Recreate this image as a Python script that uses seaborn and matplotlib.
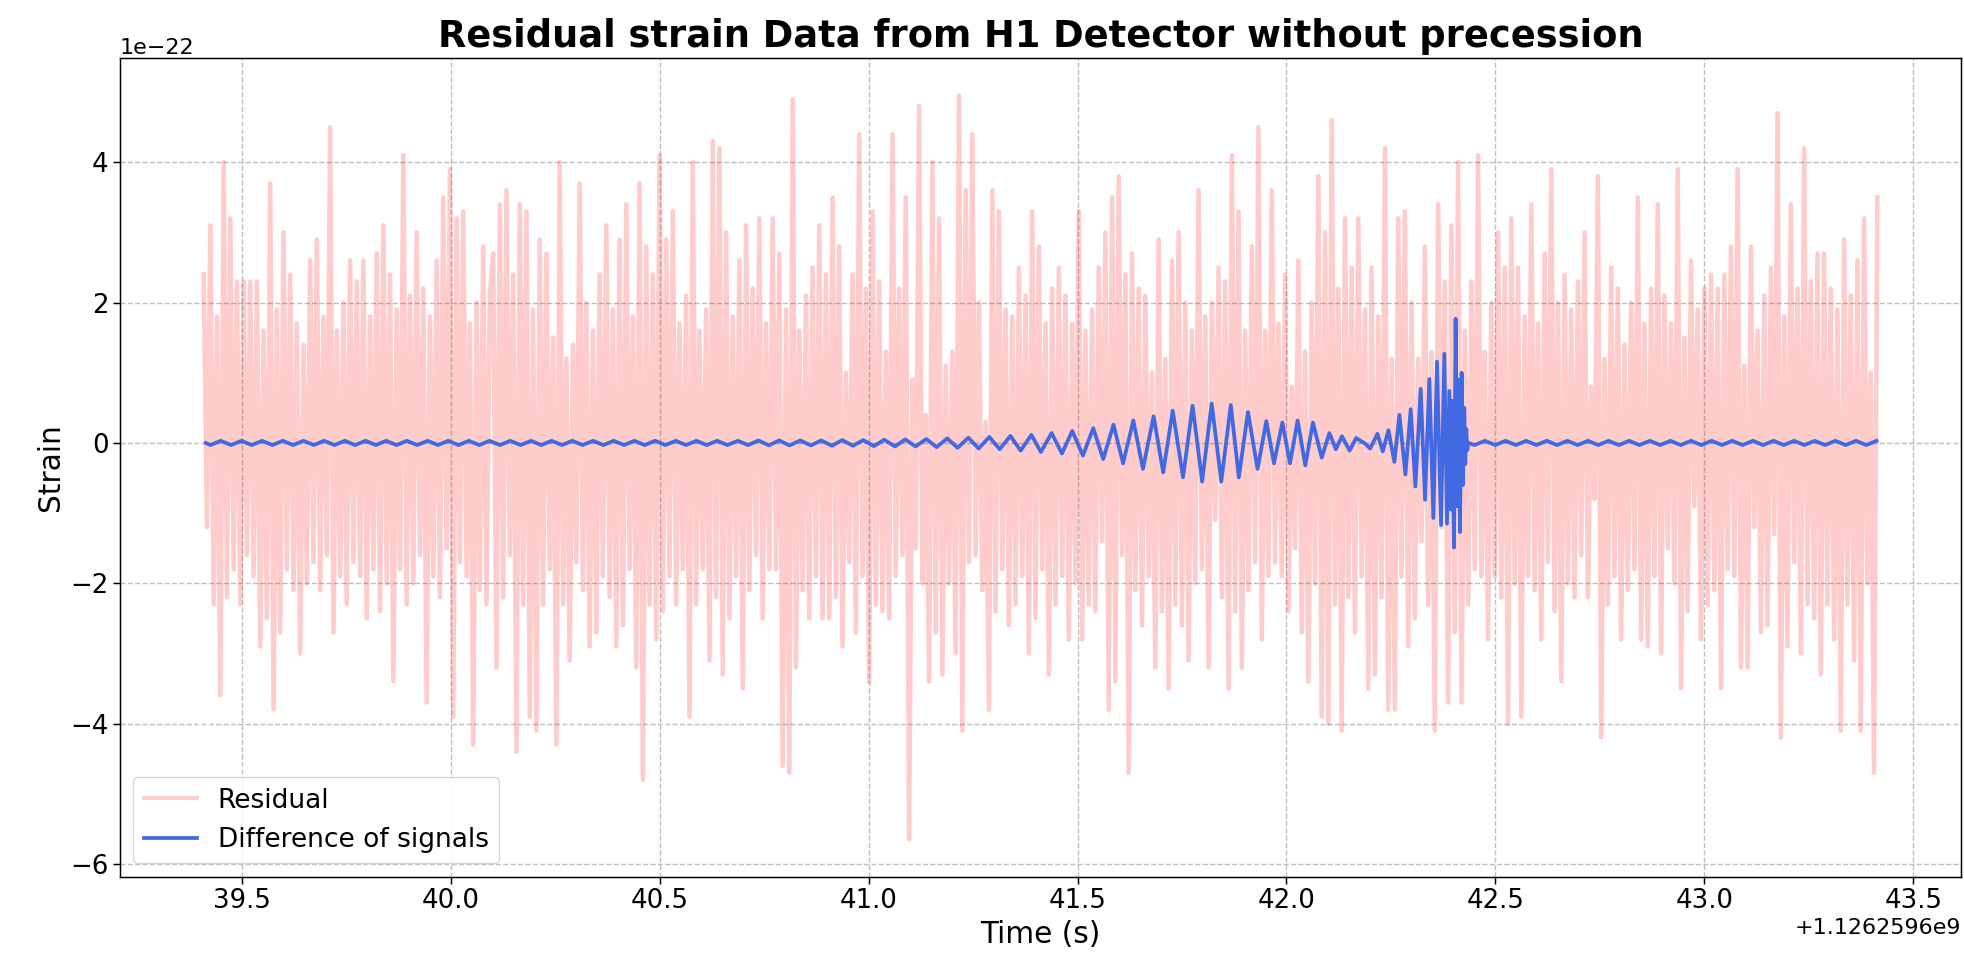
import numpy as np
import pandas as pd
import matplotlib
matplotlib.use("Agg")
import matplotlib.pyplot as plt
import seaborn as sns

OFFSET = 1.1262596e9
SCALE = 1e-22

# ---- residual strain (units of 1e-22), read left to right in six chunks ----
res_seg1 = [2.4,-1.2, 3.1,-2.3, 1.8,-3.6, 4.0,-2.2, 3.2,-1.8, 2.3,-2.3, 2.3,-1.6, 2.3,-1.9, 2.3,-2.9, 1.6,-2.5,
            3.7,-3.8, 1.9,-2.7, 3.0,-1.8, 2.4,-2.1, 1.7,-3.0, 1.4,-2.0, 2.6,-1.7, 2.9,-2.1, 1.8,-1.6, 4.5,-2.7,
            1.6,-1.9, 2.0,-2.3, 2.6,-1.7, 2.3,-1.9, 2.6,-2.5, 1.8,-1.8, 2.7,-2.4, 3.1,-2.0, 2.4,-3.4, 1.9,-1.8,
            4.1,-2.3, 2.1,-2.0, 3.0,-1.6, 2.2,-3.7, 1.8,-1.9, 2.6,-2.2, 3.5,-1.5, 3.9,-3.9, 3.2,-1.7, 3.3,-1.9,
            1.7,-4.3, 2.0,-2.1, 2.8,-2.3, 2.1]
res_seg2 = [2.7,-3.2, 3.4,-2.2, 3.6,-1.6, 2.4,-4.4, 3.4,-2.3, 3.3,-3.9, 1.9,-4.1, 2.9,-2.3, 2.7,-1.8, 1.5,-4.3,
            4.0,-2.3, 1.2,-3.1, 1.4,-1.7, 3.7,-2.1, 2.0,-2.9, 1.6,-2.7, 2.4,-1.9, 3.1,-2.2, 1.9,-2.9, 2.9,-2.6,
            3.4,-1.8, 1.8,-3.2, 3.7,-4.8, 2.8,-2.3, 2.4,-2.8, 4.1,-2.4, 2.9,-1.9, 3.3,-2.3, 1.7,-1.8, 2.1,-3.9,
            4.0,-2.3, 1.6,-1.8, 1.9,-3.1, 4.3,-2.2, 4.2,-3.3, 3.0,-2.5, 1.8,-1.9, 2.6,-3.5, 3.1,-2.1, 2.2,-1.6,
            3.2,-2.5, 1.7,-1.8, 3.2,-1.8, 2.7,-4.6, 1.9,-4.7]
res_seg3 = [4.9,-3.2, 1.6,-2.1, 2.1,-2.5, 2.5,-1.9, 3.1,-2.5, 2.4,-2.5, 3.5,-2.2, 2.8,-2.9, 1.0,-1.7, 2.4,-2.7,
            4.4,-1.9, 2.2,-3.4, 3.3,-2.3, 2.3,-2.4, 1.3,-2.5, 4.4,-1.9, 2.2,-1.6, 3.5,-5.65, 0.9,-1.5, 4.8,-2.0,
            0.4,-3.4, 4.0,-2.7, 3.2,-3.3, 1.1,-2.0, 1.3,-3.0, 4.95,-4.1, 3.6,-1.7, 4.4,-1.6, 2.0,-2.1, 0.3,-3.8,
            3.6,-2.4, 3.3,-1.8, 1.9,-2.6, 1.8,-2.3, 2.5,-1.9, 2.1,-3.0, 3.3,-2.5, 2.8,-1.8, 1.7,-3.3, 2.2,-2.3,
            2.5,-1.9, 2.1,-2.8, 1.7,-2.0, 3.3,-2.8, 1.6,-2.3]
res_seg4 = [1.9,-2.4, 2.5,-1.4, 3.0,-3.8, 3.5,-3.4, 3.8,-1.6, 2.4,-4.7, 2.7,-2.1, 2.2,-2.6, 2.1,-1.9, 1.0,-3.2,
            2.9,-2.4, 1.2,-3.5, 2.6,-2.3, 3.0,-2.6, 2.0,-3.1, 1.6,-2.0, 3.6,-1.8, 1.8,-3.2, 2.0,-1.1, 2.5,-2.2,
            2.3,-3.5, 4.1,-2.4, 3.3,-3.2, 1.6,-2.1, 2.8,-1.7, 4.5,-2.8, 1.6,-1.9, 3.6,-1.7, 1.7,-1.9, 2.4,-2.4,
            0.8,-1.5, 2.6,-2.7, 1.3,-3.4, 2.0,-2.0, 3.8,-3.9, 3.0,-4.0, 4.6,-2.3, 2.2,-4.1, 3.2,-2.2, 2.5,-2.7,
            3.2,-1.9, 1.9,-3.5, 2.5,-3.3, 1.8,-2.2, 4.2,-3.8]
res_seg5 = [1.2,-3.8, 3.2,-1.9, 3.3,-2.9, 2.0,-2.5, 1.2,-1.4, 2.8,-2.3, 1.3,-4.1, 3.4,-1.2, 2.3,-3.7, 3.1,-2.7,
            4.0,-3.7, 1.6,-2.3, 2.3,-1.8, 4.1,-1.9, 1.3,-2.8, 2.0,-1.9, 3.0,-2.2, 2.5,-4.0, 3.2,-2.0, 2.5,-3.9,
            1.8,-1.9, 3.4,-2.1, 1.7,-2.8, 2.7,-1.7, 3.9,-2.4, 2.0,-3.4, 2.4,-2.0, 1.9,-2.2, 2.3,-1.6, 3.0,-2.2,
            0.8,-0.8, 3.8,-4.2, 1.2,-2.3, 2.5,-1.9, 2.2,-2.8, 1.4,-2.1, 2.0,-1.8, 3.5,-2.8, 1.7,-2.9, 2.2,-1.9,
            3.4,-3.0, 2.1,-1.5, 1.7,-2.0, 3.9,-3.5, 1.5,-2.4]
res_seg6 = [2.6,-0.9, 1.9,-2.8, 2.2,-2.3, 2.4,-2.1, 2.2,-3.5, 2.4,-1.8, 2.8,-1.9, 3.9,-3.2, 1.1,-3.2, 2.8,-1.2,
            1.6,-2.7, 2.1,-2.6, 2.5,-1.3, 4.7,-4.2, 1.8,-2.9, 3.4,-1.7, 2.2,-3.0, 4.2,-2.3, 2.3,-2.5, 2.7,-3.3,
            2.7,-2.3, 2.2,-2.8, 1.9,-4.1, 2.9,-2.3, 2.1,-3.1, 2.6,-4.1, 3.2,-2.0, 1.0,-4.7, 3.5]
res_start, res_end = 39.409, 43.414

# ---- difference of signals (units of 1e-22) ----
blue_early_start = 39.414
blue_early = [0.0,
    -0.03, 0.03, -0.03, 0.03, -0.03, 0.03, -0.03, 0.03, -0.03, 0.03,
    -0.03, 0.03, -0.03, 0.03, -0.03, 0.03, -0.03, 0.03, -0.03, 0.03,
    -0.03, 0.03, -0.03, 0.03, -0.03, 0.03, -0.03, 0.03, -0.03, 0.03,
    -0.03, 0.03, -0.03, 0.03, -0.03, 0.03, -0.03, 0.03, -0.03, 0.03,
    -0.03, 0.03, -0.03, 0.03, -0.03, 0.03, -0.03, 0.03, -0.03, 0.03,
    -0.03, 0.03, -0.03, 0.035, -0.035, 0.035, -0.035]
blue_early_span = (39.425, 40.8108)
chirp_t = [40.8364, 40.8620, 40.8867, 40.9123, 40.9370, 40.9626, 40.9873, 41.0129, 41.0376, 41.0632,
           41.0879, 41.1125, 41.1382, 41.1628, 41.1884, 41.2131, 41.2387, 41.2634, 41.2890, 41.3137,
           41.3393, 41.3640, 41.3896, 41.4124, 41.4380, 41.4627, 41.4874, 41.5130, 41.5377, 41.5615,
           41.5861, 41.6090, 41.6336, 41.6565, 41.6821, 41.7050, 41.7278, 41.7525, 41.7754, 41.7982,
           41.8211, 41.8440, 41.8668, 41.8860, 41.9079, 41.9308, 41.9518, 41.9701, 41.9902, 42.0085,
           42.0268, 42.0451, 42.0634, 42.0844, 42.1027, 42.1182, 42.1328, 42.1511, 42.1667,
           42.1883, 42.2002, 42.2177, 42.2304, 42.2440, 42.2583, 42.2703, 42.2846, 42.2973, 42.3085,
           42.3212, 42.3316, 42.3419, 42.3515, 42.3602, 42.3698, 42.3778, 42.3841, 42.3897, 42.3937,
           42.3969, 42.4009, 42.4048, 42.4080, 42.4112, 42.4152, 42.4192, 42.4223, 42.4255, 42.4279,
           42.4303, 42.4327, 42.4351]
chirp_v = [0.035, -0.035, 0.035, -0.04, 0.04, -0.04, 0.04, -0.045, 0.045, -0.05,
           0.05, -0.05, 0.055, -0.06, 0.065, -0.07, 0.075, -0.08, 0.085, -0.09,
           0.10, -0.11, 0.115, -0.13, 0.14, -0.15, 0.17, -0.18, 0.21, -0.23,
           0.26, -0.29, 0.32, -0.37, 0.38, -0.42, 0.46, -0.49, 0.53, -0.55,
           0.56, -0.55, 0.54, -0.49, 0.44, -0.37, 0.31, -0.29, 0.29, -0.29,
           0.32, -0.32, 0.29, -0.21, 0.14, -0.09, 0.095, -0.11, 0.07,
           -0.01, -0.08, 0.13, -0.12, 0.18, -0.27, 0.40, -0.45, 0.48, -0.62,
           0.77, -0.81, 0.91, -1.07, 1.16, -1.17, 1.27, -1.15, 0.74, -0.95,
           0.6, -1.49, 1.77, -0.9, 0.9, -1.27, 1.0, -0.6, 0.5, -0.3,
           0.2, -0.1, 0.0]
blue_post = [-0.03, 0.03, -0.03, 0.03, -0.03, 0.03, -0.03, 0.03, -0.03, 0.03,
             -0.03, 0.03, -0.03, 0.03, -0.03, 0.03, -0.03, 0.03, -0.03, 0.03,
             -0.03, 0.03, -0.03, 0.03, -0.03, 0.03, -0.03, 0.03, -0.03, 0.03,
             -0.03, 0.03, -0.03, 0.03, -0.03, 0.03, -0.03, 0.03, -0.03, 0.03]
blue_post_span = (42.4502, 43.412)

# ---- assemble ----
residual = np.array(res_seg1 + res_seg2 + res_seg3 + res_seg4 + res_seg5 + res_seg6) * SCALE
res_time = np.linspace(res_start, res_end, len(residual)) + OFFSET

early_t = np.concatenate([[blue_early_start],
                          np.linspace(blue_early_span[0], blue_early_span[1], len(blue_early) - 1)])
post_t = np.linspace(blue_post_span[0], blue_post_span[1], len(blue_post))
blue_time = np.concatenate([early_t, np.array(chirp_t), post_t]) + OFFSET
blue_vals = np.array(blue_early + chirp_v + blue_post) * SCALE

df_res = pd.DataFrame({"time": res_time, "strain": residual})
df_blue = pd.DataFrame({"time": blue_time, "strain": blue_vals})

fig = plt.figure(figsize=(19.64, 9.64), dpi=100)
ax = fig.add_axes([0.0611, 0.0906, 0.9374, 0.8489])

sns.lineplot(data=df_res, x="time", y="strain", ax=ax, color="red", alpha=0.2,
             linewidth=3.3, label="Residual", estimator=None, sort=False)
sns.lineplot(data=df_blue, x="time", y="strain", ax=ax, color="royalblue",
             linewidth=2.7, label="Difference of signals", estimator=None, sort=False)

ax.set_title("Residual strain Data from H1 Detector without precession",
             fontsize=26.5, fontweight="bold", pad=8)
ax.set_xlabel("Time (s)", fontsize=21.3)
ax.set_ylabel("Strain", fontsize=21.3)
ax.tick_params(axis="both", labelsize=18.7, length=4.7, width=1.07)
for sp in ax.spines.values():
    sp.set_linewidth(1.07)
ax.xaxis.get_offset_text().set_fontsize(16)
ax.yaxis.get_offset_text().set_fontsize(16)
ax.grid(True, linestyle="--", color="#b0b0b0", alpha=0.8, linewidth=1.0)
leg = ax.legend(loc="lower left", fontsize=19)
for line in leg.get_lines():
    line.set_linewidth(2.7)

fig.savefig("out.png", dpi=100)
